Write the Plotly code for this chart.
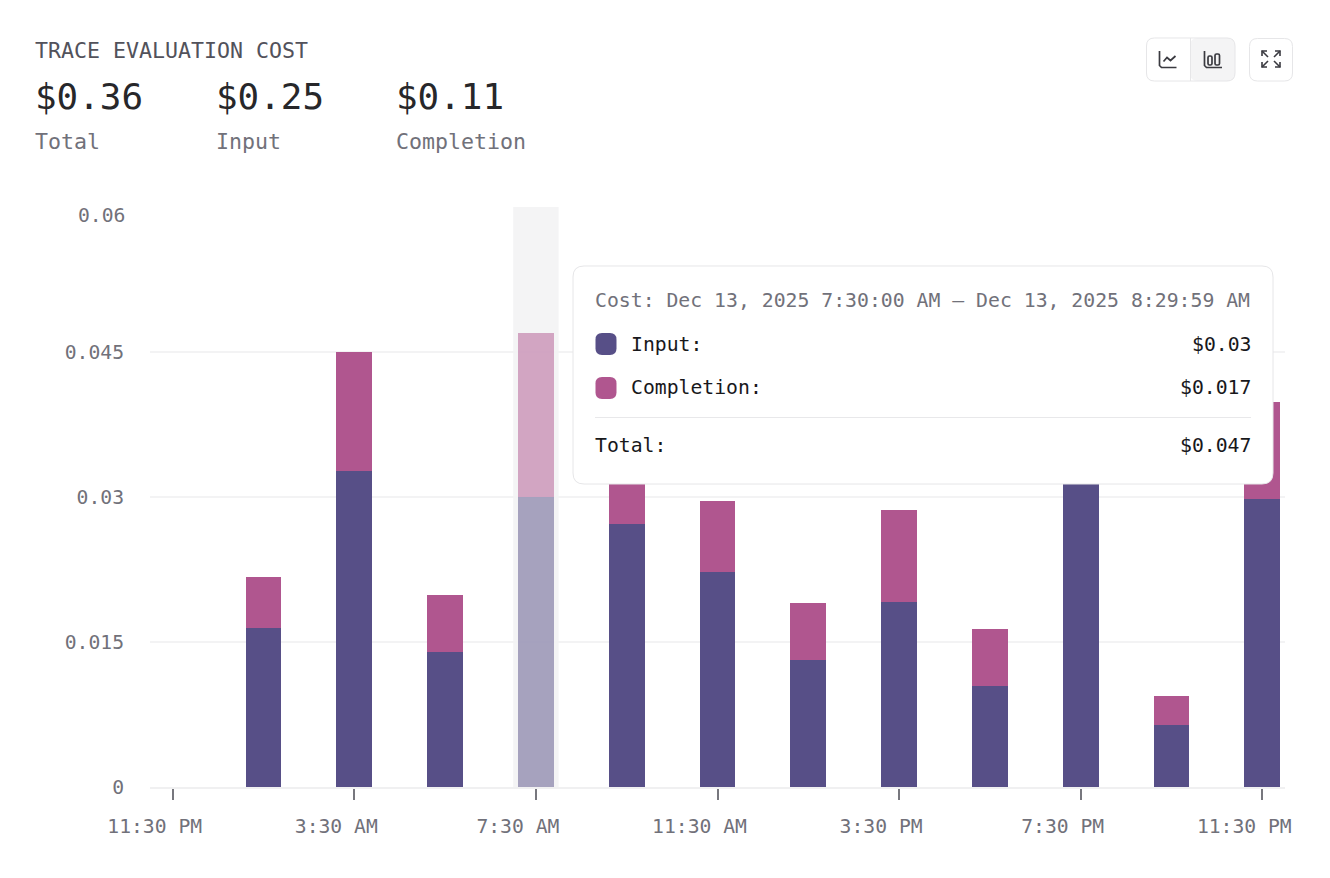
import plotly.graph_objects as go
from datetime import datetime, timedelta

# Hourly cost buckets, starting at 11:30 PM on Dec 12
start_time = datetime(2025, 12, 12, 23, 30)
hours = [start_time + timedelta(hours=i) for i in range(25)]

input_cost = [0, 0, 0.01645, 0, 0.0327, 0, 0.01397, 0, 0.03, 0, 0.0272, 0, 0.02224,
              0, 0.01314, 0, 0.01914, 0, 0.01045, 0, 0.0335, 0, 0.00641, 0, 0.0298]
completion_cost = [0, 0, 0.00527, 0, 0.0123, 0, 0.00589, 0, 0.017, 0, 0.0115, 0, 0.00735,
                   0, 0.00589, 0, 0.00952, 0, 0.00589, 0, 0.0125, 0, 0.003, 0, 0.01003]

y_ticks = [0, 0.015, 0.03, 0.045]
y_top = 0.06
x_tick_index = [0, 4, 8, 12, 16, 20, 24]
x_tick_labels = ["11:30 PM", "3:30 AM", "7:30 AM", "11:30 AM", "3:30 PM", "7:30 PM", "11:30 PM"]

summary_labels = ["Total", "Input", "Completion"]
summary_values = ["$0.36", "$0.25", "$0.11"]

active_index = 8
tooltip_range = "Cost: Dec 13, 2025 7:30:00 AM – Dec 13, 2025 8:29:59 AM"

WIDTH, HEIGHT = 1330, 878
LEFT, RIGHT, TOP, BOTTOM = 150, 1285, 207, 787
FONT = "DejaVu Sans Mono"
INPUT_COLOR = "#574f87"
COMPLETION_COLOR = "#b0568f"
BORDER = "#e6e6e8"
ICON = "#3a3a40"


def px(x):
    return (x - LEFT) / (RIGHT - LEFT)


def py(y):
    return (BOTTOM - y) / (BOTTOM - TOP)


def pt(x, y):
    return f"{px(x):.5f},{py(y):.5f}"


def rounded_path(x0, y0, x1, y1, r):
    # Rounded rectangle built from quadratic corners
    return (f"M{pt(x0 + r, y0)} L{pt(x1 - r, y0)} Q{pt(x1, y0)} {pt(x1, y0 + r)} "
            f"L{pt(x1, y1 - r)} Q{pt(x1, y1)} {pt(x1 - r, y1)} "
            f"L{pt(x0 + r, y1)} Q{pt(x0, y1)} {pt(x0, y1 - r)} "
            f"L{pt(x0, y0 + r)} Q{pt(x0, y0)} {pt(x0 + r, y0)} Z")


def polyline(points):
    return "M" + " L".join(pt(x, y) for x, y in points)


shapes = []
annotations = []


def box(x0, y0, x1, y1, r, fill="rgba(0,0,0,0)", line=BORDER, width=1):
    shapes.append(dict(type="path", xref="paper", yref="paper", layer="above",
                       path=rounded_path(x0, y0, x1, y1, r), fillcolor=fill,
                       line=dict(color=line, width=width)))


def stroke(points, color=ICON, width=1.7):
    shapes.append(dict(type="path", xref="paper", yref="paper", layer="above",
                       path=polyline(points), line=dict(color=color, width=width)))


def text(x, y, s, size=19.75, color="#71717a", anchor="left"):
    annotations.append(dict(x=px(x), y=py(y), xref="paper", yref="paper", text=s,
                            showarrow=False, xanchor=anchor, yanchor="middle",
                            borderpad=0, borderwidth=0,
                            font=dict(family=FONT, size=size, color=color)))


# Header block
text(35, 51, "TRACE EVALUATION COST", size=21.6, color="#52525b")
for x, value, label in zip([35, 215.5, 396], summary_values, summary_labels):
    text(x, 96, value, size=35.9, color="#27272a")
    text(x, 141, label, size=21.6, color="#71717a")

# Active bucket band behind the bars
shapes.append(dict(type="rect", xref="x", yref="y", layer="below",
                   x0=hours[active_index] - timedelta(minutes=30),
                   x1=hours[active_index] + timedelta(minutes=30),
                   y0=0, y1=y_top, fillcolor="#f4f4f5", line=dict(width=0)))

# Top tick label sits just under its grid line
annotations.append(dict(x=0, y=y_top, xref="paper", yref="y", text="0.06", showarrow=False,
                        xanchor="right", yanchor="middle", xshift=-25, yshift=-8,
                        borderpad=0, borderwidth=0,
                        font=dict(family=FONT, size=19.7, color="#71717a")))

# Toolbar buttons
box(1190, 38, 1235, 81, 8, fill="#f4f4f5", line="rgba(0,0,0,0)")
box(1146.5, 38, 1235, 81, 8)
stroke([(1190.5, 38), (1190.5, 81)], color=BORDER, width=1)
stroke([(1159.5, 51), (1159.5, 65.5), (1161.5, 67.5), (1176.5, 67.5)])
stroke([(1163.5, 61.5), (1167, 57.5), (1170.5, 60.5), (1175.5, 56)])
stroke([(1204.5, 51), (1204.5, 65.5), (1206.5, 67.5), (1222, 67.5)])
box(1208, 56, 1212, 65, 1.5, line=ICON, width=1.7)
box(1215, 54, 1219.5, 65, 1.5, line=ICON, width=1.7)
box(1249.5, 38.5, 1292.5, 81, 8)
stroke([(1262, 56), (1262, 51), (1267, 51)], width=1.6)
stroke([(1262, 51), (1268, 57)], width=1.6)
stroke([(1275, 51), (1280, 51), (1280, 56)], width=1.6)
stroke([(1280, 51), (1274, 57)], width=1.6)
stroke([(1262, 62), (1262, 67), (1267, 67)], width=1.6)
stroke([(1262, 67), (1268, 61)], width=1.6)
stroke([(1275, 67), (1280, 67), (1280, 62)], width=1.6)
stroke([(1280, 67), (1274, 61)], width=1.6)

# Hover card for the active bucket
active_input = input_cost[active_index]
active_completion = completion_cost[active_index]
box(573, 266, 1273, 484, 11, fill="#ffffff", line=BORDER)
text(595, 300, tooltip_range, size=19.8, color="#71717a")
box(595.5, 333, 616.5, 355, 6.5, fill=INPUT_COLOR, line=INPUT_COLOR, width=0)
box(595.5, 377, 616.5, 399, 6.5, fill=COMPLETION_COLOR, line=COMPLETION_COLOR, width=0)
text(631, 344, "Input:", color="#18181b")
text(631, 387, "Completion:", color="#18181b")
text(595, 445, "Total:", color="#18181b")
text(1251, 344, f"${active_input:g}", color="#18181b", anchor="right")
text(1251, 387, f"${active_completion:g}", color="#18181b", anchor="right")
text(1251, 445, f"${active_input + active_completion:.3g}", color="#18181b", anchor="right")
stroke([(595, 417.5), (1251, 417.5)], color="#e8e8ea", width=1)

bar_opacity = [0.5 if i == active_index else 1 for i in range(len(hours))]

fig = go.Figure()
fig.add_bar(x=hours, y=input_cost, name="Input",
            marker=dict(color=INPUT_COLOR, opacity=bar_opacity, line=dict(width=0)))
fig.add_bar(x=hours, y=completion_cost, name="Completion",
            marker=dict(color=COMPLETION_COLOR, opacity=bar_opacity, line=dict(width=0)))

fig.update_layout(
    width=WIDTH, height=HEIGHT, autosize=False,
    margin=dict(l=LEFT, r=WIDTH - RIGHT, t=TOP, b=HEIGHT - BOTTOM, pad=0),
    paper_bgcolor="#ffffff", plot_bgcolor="#ffffff",
    barmode="stack", bargap=0.21, showlegend=False,
    font=dict(family=FONT, size=19.7, color="#71717a"),
    shapes=shapes, annotations=annotations,
    xaxis=dict(
        type="date",
        range=[hours[0] - timedelta(minutes=30), hours[-1] + timedelta(minutes=30)],
        tickmode="array",
        tickvals=[hours[i] for i in x_tick_index],
        ticktext=x_tick_labels,
        ticks="outside", ticklen=11, tickwidth=1.7, tickcolor="#77777e",
        ticklabelstandoff=10, ticklabelshift=-18,
        showgrid=False, showline=True, linecolor="#f0f0f1", linewidth=1.5, zeroline=False,
        tickfont=dict(family=FONT, size=19.7, color="#71717a"),
    ),
    yaxis=dict(
        range=[0, y_top],
        tickmode="array",
        tickvals=y_ticks + [y_top],
        ticktext=[f"{v:g}" for v in y_ticks] + [""],
        ticks="", ticklabelstandoff=25,
        showgrid=True, gridcolor="#f3f3f4", gridwidth=1.6,
        showline=False, zeroline=False,
        tickfont=dict(family=FONT, size=19.7, color="#71717a"),
    ),
)

fig.write_html("out.html", config=dict(displayModeBar=False))
